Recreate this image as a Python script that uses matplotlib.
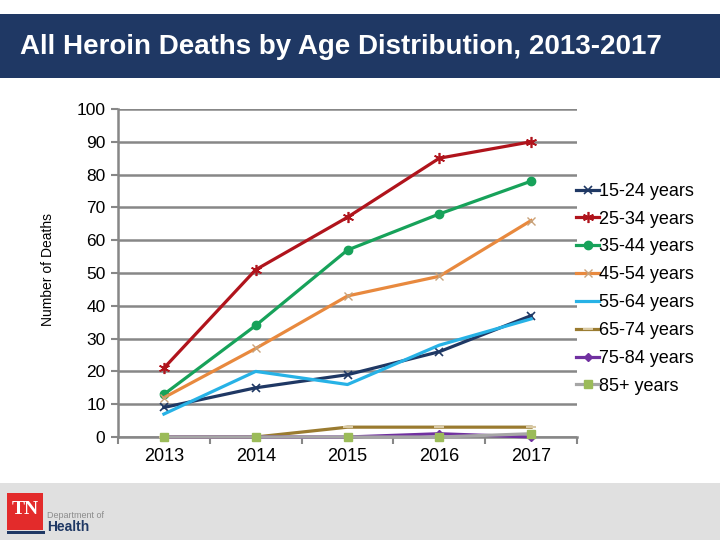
import matplotlib.pyplot as plt
from matplotlib.patches import Rectangle

years = ["2013", "2014", "2015", "2016", "2017"]
age_groups = ["15-24 years", "25-34 years", "35-44 years", "45-54 years",
              "55-64 years", "65-74 years", "75-84 years", "85+ years"]
deaths_15_24 = [9, 15, 19, 26, 37]
deaths_25_34 = [21, 51, 67, 85, 90]
deaths_35_44 = [13, 34, 57, 68, 78]
deaths_45_54 = [12, 27, 43, 49, 66]
deaths_55_64 = [7, 20, 16, 28, 36]
deaths_65_74 = [0, 0, 3, 3, 3]
deaths_75_84 = [0, 0, 0, 1, 0]
deaths_85_plus = [0, 0, 0, 0, 1]
y_ticks = [0, 10, 20, 30, 40, 50, 60, 70, 80, 90, 100]

series = [deaths_15_24, deaths_25_34, deaths_35_44, deaths_45_54,
          deaths_55_64, deaths_65_74, deaths_75_84, deaths_85_plus]
styles = [
    dict(color="#1F3864", marker="x", ms=6, mew=1.2),
    dict(color="#B0141C", marker=(6, 2, 0), ms=8, mew=1.2),
    dict(color="#17A25A", marker="o", ms=6),
    dict(color="#E8893E", marker="x", ms=6, mew=1.0, mec="#C9A27A"),
    dict(color="#27B2E6", marker=None),
    dict(color="#9A7B30", marker="_", ms=7, mew=1.5, mec="#D9C9A3"),
    dict(color="#7030A0", marker="D", ms=4),
    dict(color="#A6A6A6", marker="s", ms=6, mfc="#9BBB59", mec="#9BBB59"),
]

fig = plt.figure(figsize=(7.2, 5.4), dpi=100)

# title banner
fig.patches.append(Rectangle((0, 1 - 78 / 540), 1, 64 / 540, transform=fig.transFigure,
                             facecolor="#1F3864", edgecolor="none", zorder=0))
fig.text(20 / 720, 1 - 47 / 540, "All Heroin Deaths by Age Distribution, 2013-2017",
         color="white", fontsize=20, fontweight="bold", va="center", ha="left",
         family="Liberation Sans")

# bottom band with logo
fig.patches.append(Rectangle((0, 0), 1, 57 / 540, transform=fig.transFigure,
                             facecolor="#E0E0E0", edgecolor="none", zorder=0))
fig.patches.append(Rectangle((7 / 720, 1 - 530 / 540), 36 / 720, 37 / 540, transform=fig.transFigure,
                             facecolor="#E32B2B", edgecolor="none", zorder=1))
fig.patches.append(Rectangle((7 / 720, 1 - 534 / 540), 38 / 720, 3 / 540, transform=fig.transFigure,
                             facecolor="#1F3864", edgecolor="none", zorder=1))
fig.text(25 / 720, 1 - 510 / 540, "TN", color="white", fontsize=14, fontweight="bold",
         family="Liberation Serif", ha="center", va="center")
fig.text(47 / 720, 1 - 515 / 540, "Department of", color="#8C8C8C", fontsize=6.5,
         ha="left", va="center", family="Liberation Sans")
fig.text(47 / 720, 1 - 527 / 540, "Health", color="#1F3864", fontsize=10, fontweight="bold",
         ha="left", va="center", family="Liberation Sans")

ax = fig.add_axes([118 / 720, 1 - 437 / 540, 459 / 720, 328 / 540])
x = list(range(1, len(years) + 1))
for vals, label, st in zip(series, age_groups, styles):
    ax.plot(x, vals, label=label, lw=2.3, clip_on=False, zorder=3, **st)

ax.set_xlim(0.5, len(years) + 0.5)
ax.set_ylim(0, 100)
ax.set_yticks(y_ticks)
ax.grid(axis="y", color="#878787", lw=1.8)
ax.set_axisbelow(True)
ax.set_xticks([i + 0.5 for i in range(len(years) + 1)])
ax.set_xticklabels([])
ax.set_xticks(x, minor=True)
ax.set_xticklabels(years, minor=True, fontsize=13, family="Liberation Sans")
ax.tick_params(axis="x", which="minor", length=0, pad=8)
ax.tick_params(axis="x", which="major", length=5, color="#878787", width=1.5)
ax.tick_params(axis="y", length=5, color="#878787", width=1.5, pad=4)
for lbl in ax.get_yticklabels():
    lbl.set_fontsize(12.5)
    lbl.set_family("Liberation Sans")
for side in ["top", "right"]:
    ax.spines[side].set_visible(False)
for side in ["left", "bottom"]:
    ax.spines[side].set_color("#878787")
    ax.spines[side].set_linewidth(1.8)
ax.set_ylabel("Number of Deaths", fontsize=10, family="Liberation Sans", labelpad=14)
ax.yaxis.set_label_coords(-0.137, 0.51)

ax.legend(loc="center left", bbox_to_anchor=(0.982, 0.452), frameon=False,
          prop={"family": "Liberation Sans", "size": 13}, handlelength=1.3,
          handletextpad=0.0, labelspacing=0.6, borderaxespad=0)

fig.savefig("out.png", dpi=100)
